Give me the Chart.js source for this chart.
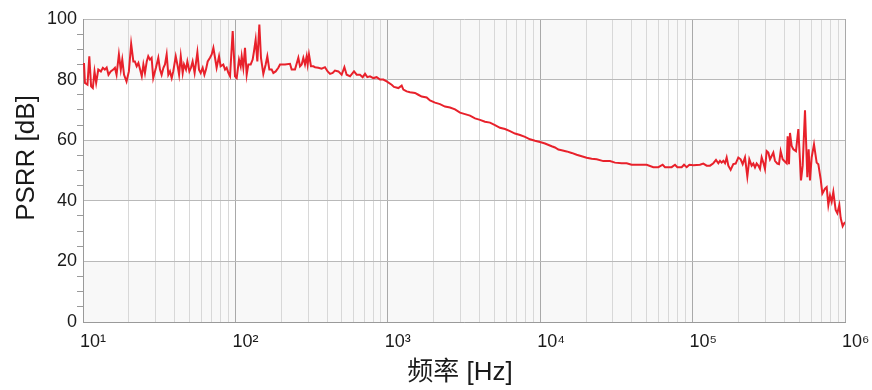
<!DOCTYPE html>
<html lang="zh">
<head>
    <meta charset="UTF-8">
    <title>PSRR</title>
    <script src="https://cdn.jsdelivr.net/npm/chart.js"></script>
    <style>
        body {
            margin: 0;
            background: #ffffff;
        }
        canvas {
            display: block;
        }
    </style>
</head>
<body>
    <canvas id="psrrChart" width="872" height="390"></canvas>

    <script>
        // frequency points [Hz] and PSRR [dB]
        const freqHz = [
            10.15, 10.3, 10.7, 11.0, 11.3, 11.6, 11.9, 12.2, 12.6, 13.1,
            13.5, 13.9, 14.3, 14.7, 15.2, 15.8, 16.2, 16.6, 17.2, 17.7,
            18.1, 18.6, 19.3, 20.0, 20.7, 21.4, 21.9, 22.5, 23.1, 23.7,
            24.3, 24.9, 25.5, 26.2, 26.8, 27.5, 28.2, 28.9, 30.1, 31.2,
            32.0, 32.8, 33.7, 34.5, 35.4, 36.3, 37.2, 38.2, 39.1, 40.6,
            41.6, 42.7, 43.8, 45.1, 46.0, 47.4, 48.4, 49.9, 51.1, 52.4,
            54.0, 55.1, 56.3, 57.7, 59.2, 61.0, 62.6, 64.1, 65.8, 68.1,
            69.9, 71.7, 73.5, 75.3, 78.1, 80.0, 83.3, 85.5, 87.6, 89.9,
            92.2, 96.0, 99.4,
            102, 105.6, 108.3, 110, 112.7, 115.6, 118.6, 121.6, 126, 129.8,
            132.5, 135.8, 139.3, 143.6, 147.2, 152.5, 158, 162, 167, 173,
            177.4, 183.8, 191.3, 196.2, 211.6, 228.2, 234, 246, 258.8, 265.4,
            272.2, 279.1, 286.2, 293.5, 298, 304, 313.3, 324.7, 333, 350,
            368, 387, 403, 418, 435, 450, 474, 498, 519, 537,
            565, 600, 625, 657, 684, 709, 734, 764, 804, 845,
            889, 935, 983,
            1060, 1098, 1173, 1233, 1265, 1330, 1398, 1508, 1586, 1668,
            1799, 1892, 2040, 2200, 2373, 2559, 2761, 2977, 3211, 3462,
            3735, 4027, 4343, 4684, 5051, 5447, 5875, 6336, 6833, 7370,
            7948, 8573, 9245, 9970, 10752,
            11894, 12505, 13152, 13831, 14916, 16087, 17350, 18712, 20181, 21765,
            23473, 25965, 28708, 30962, 34236, 36924, 39829, 45173, 49951, 55255,
            59610, 63620, 65900, 72900, 76650, 79400, 84800, 87850, 91450, 95200,
            101100, 111800,
            117600, 123700, 130100, 136800, 142400, 147600, 151300, 155100, 159100, 163200,
            167300, 171600, 177700, 185000, 191700, 199500, 206700, 213100, 220700, 228600,
            235600, 244000, 250300, 256700, 263200, 269900, 276800, 283900, 291100, 298500,
            306200, 314000, 322000, 330200, 338600, 347200, 359700, 368900, 378300, 389900,
            403900, 414200, 420500, 429000, 435500, 446700, 458100, 476900, 494000, 514400,
            527500, 546400, 566000, 577500, 589200, 604200, 626000, 651700, 668300, 692200,
            710000, 739300, 758100, 777400, 797300, 817600, 838400, 868400, 890500, 918000,
            936800, 965400, 1000000
        ];
        const psrrDb = [
            85.5, 78.9, 78.3, 87.7, 77.8, 77.2, 82.7, 78.9, 83.3, 82.7,
            83.9, 83.3, 84.0, 81.6, 82.7, 83.3, 83.9, 81.6, 88.3, 83.3,
            86.6, 81.6, 79.4, 82.7, 91.8, 86.0, 86.0, 84.4, 85.5, 83.3,
            81.1, 85.0, 82.2, 86.0, 87.7, 86.6, 87.2, 80.5, 83.9, 87.2,
            83.3, 81.6, 83.9, 85.0, 88.3, 81.6, 82.7, 80.5, 82.7, 87.7,
            85.0, 81.6, 87.7, 82.2, 85.0, 83.3, 86.0, 82.7, 83.9, 86.0,
            82.2, 85.5, 89.0, 83.3, 82.2, 83.9, 81.6, 83.3, 86.0, 87.2,
            88.3, 90.5, 87.2, 83.9, 87.7, 84.4, 85.0, 83.3, 83.9, 82.2,
            81.1, 96.0, 81.1,
            80.5, 86.6, 84.4, 87.7, 83.9, 90.5, 81.6, 85.0, 85.0, 86.6,
            89.4, 93.2, 86.0, 98.2, 87.2, 81.9, 85.0, 87.7, 83.3, 83.3,
            82.2, 82.7, 83.9, 85.0, 85.0, 85.2, 83.3, 83.3, 87.2, 84.4,
            85.0, 87.2, 85.0, 87.7, 85.0, 88.3, 84.4, 84.4, 84.1, 83.9,
            83.6, 84.1, 82.7, 81.9, 82.2, 83.0, 82.7, 81.6, 84.1, 81.6,
            81.1, 82.7, 81.6, 81.6, 80.8, 81.9, 80.8, 81.1, 80.5, 80.8,
            80.0, 80.0, 79.4,
            78.3, 77.6, 77.2, 78.0, 76.7, 76.1, 75.8, 75.6, 75.0, 74.4,
            74.1, 73.1, 72.4, 71.9, 71.1, 70.8, 70.2, 69.1, 68.6, 68.1,
            67.2, 66.7, 66.1, 65.8, 65.0, 64.1, 63.7, 63.0, 62.2, 61.7,
            61.1, 60.3, 59.8, 59.4, 58.9,
            58.0, 57.6, 56.9, 56.7, 56.3, 55.8, 55.2, 54.7, 54.2, 53.9,
            53.7, 53.1, 53.1, 52.6, 52.4, 52.4, 51.9, 51.9, 51.9, 51.1,
            51.1, 51.9, 51.1, 51.1, 51.9, 51.1, 51.1, 51.9, 51.1, 51.9,
            51.7, 51.9,
            52.3, 51.6, 51.6, 52.4, 53.5, 52.4, 53.2, 52.6, 53.2, 52.4,
            54.3, 51.6, 50.2, 52.1, 52.3, 54.3, 53.7, 52.1, 54.3, 48.0,
            53.7, 51.6, 52.3, 51.0, 52.3, 51.6, 50.5, 54.3, 52.6, 50.5,
            56.4, 55.9, 53.7, 54.8, 55.9, 53.2, 52.3, 52.1, 56.4, 53.7,
            52.9, 52.4, 61.3, 52.1, 62.4, 58.1, 57.0, 56.4, 63.7, 46.7,
            51.6, 69.9, 47.8, 57.0, 46.7, 54.3, 58.6, 52.6, 52.1, 47.2,
            42.4, 44.0, 44.5, 38.6, 41.8, 39.7, 42.9, 37.0, 35.9, 38.6,
            34.3, 31.6, 33.0
        ];

        // axis settings
        const xMin = 10;
        const xMax = 1e6;
        const yMin = 0;
        const yMax = 100;
        const yLabelStep = 20;
        const yMinorStep = 5;
        const shadedBands = [[80, 100], [40, 60], [0, 20]];
        const xTitle = '频率 [Hz]';
        const yTitle = 'PSRR [dB]';

        const superDigits = ['⁰', '¹', '²', '³', '⁴', '⁵', '⁶', '⁷', '⁸', '⁹'];

        function isDecade(v) {
            const l = Math.log10(v);
            return Math.abs(l - Math.round(l)) < 1e-9;
        }

        // light grey stripes behind every other 20 dB band
        const bandPlugin = {
            id: 'bands',
            beforeDraw(chart) {
                const { ctx, chartArea, scales } = chart;
                ctx.save();
                ctx.fillStyle = '#f8f8f8';
                shadedBands.forEach(([lo, hi]) => {
                    const top = scales.y.getPixelForValue(hi);
                    const bottom = scales.y.getPixelForValue(lo);
                    ctx.fillRect(chartArea.left, top, chartArea.right - chartArea.left, bottom - top);
                });
                ctx.restore();
            }
        };

        // axis titles placed like in the original figure
        const titlePlugin = {
            id: 'axisTitles',
            afterDraw(chart) {
                const ctx = chart.ctx;
                ctx.save();
                ctx.fillStyle = '#1a1a1a';
                ctx.textAlign = 'center';
                ctx.textBaseline = 'middle';
                ctx.font = '26px "Liberation Sans", Arial, sans-serif';
                ctx.translate(27, 158);
                ctx.rotate(-Math.PI / 2);
                ctx.fillText(yTitle, 0, 0);
                ctx.restore();

                ctx.save();
                ctx.fillStyle = '#1a1a1a';
                ctx.textAlign = 'center';
                ctx.textBaseline = 'middle';
                ctx.font = '26px "Liberation Sans", "Noto Sans CJK SC", sans-serif';
                ctx.fillText(xTitle, 460, 373);
                ctx.restore();
            }
        };

        const ctx = document.getElementById('psrrChart').getContext('2d');

        const psrrChart = new Chart(ctx, {
            type: 'line',
            data: {
                datasets: [{
                    label: 'PSRR',
                    data: freqHz.map((f, i) => ({ x: f, y: psrrDb[i] })),
                    borderColor: '#e8212b',
                    borderWidth: 2,
                    pointRadius: 0,
                    tension: 0,
                    fill: false
                }]
            },
            options: {
                responsive: false,
                animation: false,
                layout: {
                    padding: { top: 19, right: 27, left: 0, bottom: 0 }
                },
                plugins: {
                    legend: { display: false },
                    tooltip: { enabled: false }
                },
                scales: {
                    x: {
                        type: 'logarithmic',
                        min: xMin,
                        max: xMax,
                        afterBuildTicks(scale) {
                            const ticks = [];
                            for (let e = 1; e < 6; e++) {
                                for (let m = 1; m < 10; m++) {
                                    ticks.push({ value: m * Math.pow(10, e) });
                                }
                            }
                            ticks.push({ value: xMax });
                            scale.ticks = ticks;
                        },
                        afterFit(scale) {
                            scale.height = 68;
                            // last label may hang over the edge, like the original
                            scale.paddingLeft = 0;
                            scale.paddingRight = 0;
                        },
                        grid: {
                            color: (c) => (c.tick && isDecade(c.tick.value)) ? '#a9a9a9' : '#d8d8d8',
                            lineWidth: 1,
                            drawTicks: false
                        },
                        border: { color: '#9a9a9a' },
                        ticks: {
                            autoSkip: false,
                            maxRotation: 0,
                            align: 'start',
                            labelOffset: -3,
                            padding: 9,
                            color: '#1a1a1a',
                            font: { family: '"Liberation Sans", Arial, sans-serif', size: 18 },
                            callback: (v) => isDecade(v) ? '10' + superDigits[Math.round(Math.log10(v))] : ''
                        }
                    },
                    y: {
                        min: yMin,
                        max: yMax,
                        afterFit(scale) {
                            scale.width = 83;
                            scale.paddingTop = 0;
                            scale.paddingBottom = 0;
                        },
                        grid: {
                            color: (c) => (c.tick && c.tick.value % yLabelStep === 0) ? '#b9b9b9' : 'rgba(0,0,0,0)',
                            tickColor: (c) => (c.tick && c.tick.value % yLabelStep === 0) ? 'rgba(0,0,0,0)' : '#9a9a9a',
                            tickLength: 6
                        },
                        border: { color: '#9a9a9a' },
                        ticks: {
                            stepSize: yMinorStep,
                            autoSkip: false,
                            padding: 0,
                            color: '#1a1a1a',
                            font: { family: '"Liberation Sans", Arial, sans-serif', size: 18 },
                            callback: (v) => v % yLabelStep === 0 ? String(v) : ''
                        }
                    }
                }
            },
            plugins: [bandPlugin, titlePlugin]
        });
    </script>
</body>
</html>
